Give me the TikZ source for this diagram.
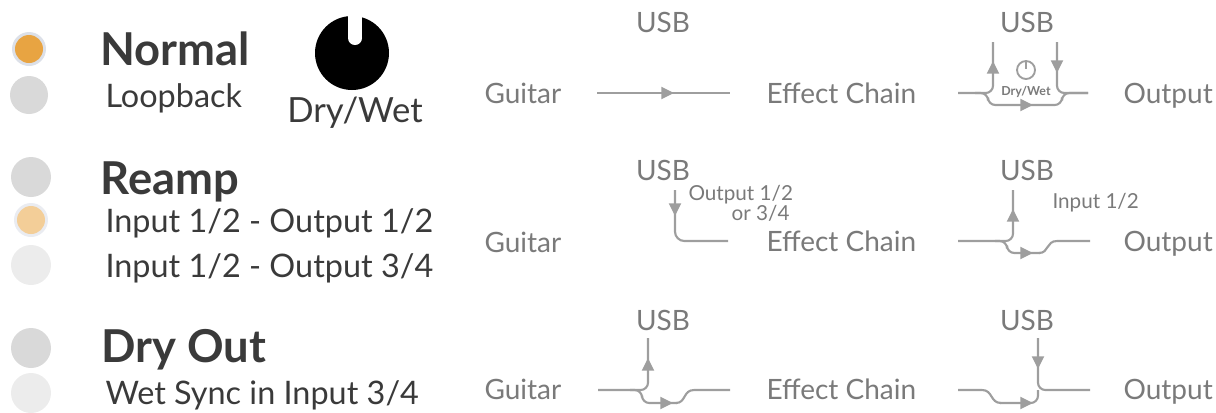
\documentclass[tikz,border=0pt]{standalone}
\usepackage{fontspec}
\setmainfont{Lato}
\usetikzlibrary{arrows.meta}
\definecolor{wiregray}{RGB}{158,158,158}
\definecolor{labelgray}{RGB}{122,122,122}
\definecolor{titlegray}{RGB}{58,58,58}
\definecolor{ledon}{RGB}{232,164,66}
\definecolor{ledhalf}{RGB}{243,206,152}
\definecolor{ledoff}{RGB}{217,217,217}
\definecolor{ledfaint}{RGB}{236,236,236}
\definecolor{ledring}{RGB}{220,224,232}
\tikzset{every picture/.style={line width=0.75pt},
  wire/.style={draw=wiregray, line width=1.6pt, rounded corners=5.5},
  curvewire/.style={draw=wiregray, line width=1.6pt},
  flow/.style={draw=wiregray, line width=1.6pt, -{Triangle[length=9.5pt,width=9pt]}},
  title/.style={anchor=base west, inner sep=0pt, text=titlegray, font=\fontsize{34}{36}\selectfont\bfseries},
  mode/.style={anchor=base west, inner sep=0pt, text=titlegray, font=\fontsize{24.3}{28}\selectfont},
  port/.style={anchor=base west, inner sep=0pt, text=labelgray, font=\fontsize{21}{24}\selectfont},
  usb/.style={anchor=base, inner sep=0pt, text=labelgray, font=\fontsize{21}{24}\selectfont},
  note/.style={inner sep=0pt, text=labelgray, font=\fontsize{15.5}{18}\selectfont}}

\begin{document}
\begin{tikzpicture}[x=0.75pt,y=0.75pt,yscale=-1,xscale=1]
  \useasboundingbox (0,0) rectangle (1216,412);

  %LEDs
  \fill[ledring] (29,49) circle[radius=17];
  \fill[ledon] (29,49) circle[radius=14];
  \fill[ledoff] (29,95) circle[radius=19];
  \fill[ledoff] (31,177) circle[radius=20];
  \fill[ledring!60] (31,220) circle[radius=17];
  \fill[ledhalf] (31,220) circle[radius=14];
  \fill[ledfaint] (31,265) circle[radius=20];
  \fill[ledoff] (31,348) circle[radius=20];
  \fill[ledfaint] (31,393) circle[radius=20];

  %Mode texts
  \node[title] (normal) at (100,65) {Normal};
  \node[mode] (loop) at (105,107) {Loopback};
  \node[title] (reamp) at (100,194) {Reamp};
  \node[mode] (reampa) at (105,232) {Input 1/2 - Output 1/2};
  \node[mode] (reampb) at (105,277) {Input 1/2 - Output 3/4};
  \node[title] (dryout) at (101,362) {Dry Out};
  \node[mode] (wetsync) at (105,404) {Wet Sync in Input 3/4};

  %Dry/Wet knob
  \fill[black] (352,53) circle[radius=37];
  \fill[white] (348,14) rectangle (362,38);
  \fill[white] (355,38) circle[radius=7];
  \node[anchor=base, inner sep=0pt, text=titlegray, font=\fontsize{26}{30}\selectfont] (drywet) at (355,122) {Dry/Wet};

  %Row 1: Normal
  \node[port] (guitar1) at (484,103) {Guitar};
  \node[port] (chain1) at (766,103) {Effect Chain};
  \node[port] (out1) at (1123,103) {Output};
  \node[usb] (usb1a) at (663,32) {USB};
  \node[usb] (usb1b) at (1027,32) {USB};
  \draw[wire] (597,93) -- (730,93);
  \draw[flow] (660,93) -- (674,93);
  \draw[wire] (958,93) -- (993,93) -- (993,42);
  \draw[wire] (975,93) -- (988,93) -- (988,105) -- (1062,105) -- (1062,93) -- (1088,93);
  \draw[wire] (1057,42) -- (1057,93) -- (1088,93);
  \draw[flow] (993,73) -- (993,61);
  \draw[flow] (1057,60) -- (1057,73);
  \draw[flow] (1018,105) -- (1033,105);
  \draw[wiregray, line width=1.4pt] (1026,70) circle[radius=9];
  \draw[wiregray, line width=1.4pt] (1026,61) -- (1026,69);
  \node[note, font=\fontsize{9.3}{10}\selectfont\bfseries] (knob1) at (1026,92) {Dry/Wet};

  %Row 2: Reamp
  \node[port] (guitar2) at (484,252) {Guitar};
  \node[port] (chain2) at (766,251) {Effect Chain};
  \node[port] (out2) at (1123,251) {Output};
  \node[usb] (usb2a) at (663,180) {USB};
  \node[usb] (usb2b) at (1027,180) {USB};
  \node[note, anchor=base west] (outsel) at (688,200) {Output 1/2};
  \node[note, anchor=base east] (outalt) at (790,220) {or 3/4};
  \node[note, anchor=base west] (insel) at (1052,208) {Input 1/2};
  \draw[wire, rounded corners=7] (675,190) -- (675,241) -- (728,241);
  \draw[flow] (675,202) -- (675,216);
  \draw[wire] (958,241) -- (1013,241) -- (1013,190);
  \draw[wire] (995,241) -- (1007,241) -- (1007,253) -- (1040,253);
  \draw[curvewire] (1039,253) .. controls (1049,253) and (1046,241) .. (1057,241) -- (1090,241);
  \draw[flow] (1013,222) -- (1013,209);
  \draw[flow] (1018,253) -- (1033,253);

  %Row 3: Dry Out
  \node[port] (guitar3) at (484,399) {Guitar};
  \node[port] (chain3) at (766,399) {Effect Chain};
  \node[port] (out3) at (1123,399) {Output};
  \node[usb] (usb3a) at (663,330) {USB};
  \node[usb] (usb3b) at (1027,330) {USB};
  \draw[wire] (598,390) -- (648,390) -- (648,338);
  \draw[wire] (630,390) -- (642,390) -- (642,403) -- (677,403);
  \draw[curvewire] (676,403) .. controls (686,403) and (683,390) .. (694,390) -- (730,390);
  \draw[flow] (648,371) -- (648,358);
  \draw[flow] (658,403) -- (673,403);
  \draw[wire] (1038,338) -- (1038,390) -- (1090,390);
  \draw[curvewire] (958,390) -- (982,390) .. controls (993,390) and (990,403) .. (1001,403);
  \draw[wire] (1000,403) -- (1038,403) -- (1038,390);
  \draw[flow] (1038,355) -- (1038,369);
  \draw[flow] (1018,403) -- (1033,403);
\end{tikzpicture}
\end{document}
